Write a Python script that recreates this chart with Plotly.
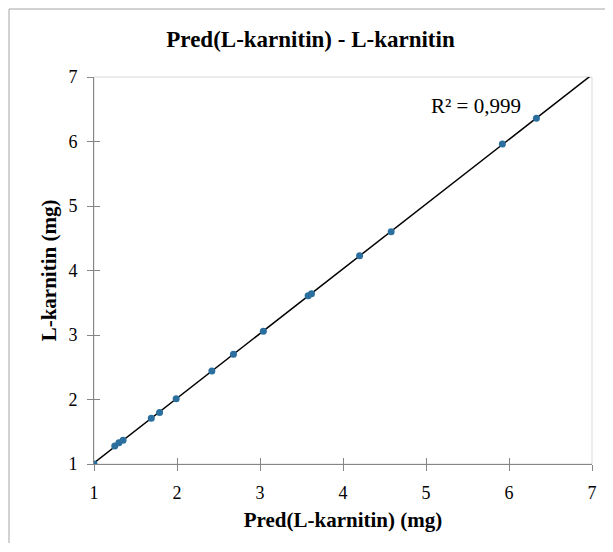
import numpy as np
import plotly.graph_objects as go

# Data
pred_mg = [1.00, 1.25, 1.30, 1.35, 1.69, 1.79, 1.99, 2.42, 2.68, 3.04, 3.58, 3.62, 4.20, 4.58, 5.92, 6.33]
lkarn_mg = [1.00, 1.28, 1.33, 1.37, 1.71, 1.80, 2.01, 2.44, 2.70, 3.06, 3.61, 3.64, 4.23, 4.60, 5.96, 6.36]
tick_vals = [1, 2, 3, 4, 5, 6, 7]
title_text = "Pred(L-karnitin) - L-karnitin"
x_title = "Pred(L-karnitin) (mg)"
y_title = "L-karnitin (mg)"
r2_label = "R² = 0,999"

slope, intercept = np.polyfit(pred_mg, lkarn_mg, 1)
line_x = [1, 7]
line_y = [slope * v + intercept for v in line_x]

FONT = "Liberation Serif"
AX = "#868686"
LIGHT = "#d9d9d9"

W, H = 605, 536
ML, MR, MT, MB = 86, 21, 69, 80
PW, PH = W - ML - MR, H - MT - MB

fig = go.Figure()
fig.add_trace(go.Scatter(x=line_x, y=line_y, mode="lines",
                         line=dict(color="black", width=1.5), hoverinfo="skip"))
fig.add_trace(go.Scatter(x=pred_mg, y=lkarn_mg, mode="markers",
                         marker=dict(color="#2b6f9f", size=7)))
# invisible trace to activate the overlay axes (inside half of cross ticks)
fig.add_trace(go.Scatter(x=pred_mg, y=lkarn_mg, mode="markers", xaxis="x2", yaxis="y2",
                         marker=dict(opacity=0), hoverinfo="skip"))

axis_common = dict(range=[1, 7], tickvals=tick_vals, showgrid=False, zeroline=False)
fx0 = (1 - ML) / PW          # left edge of the chart frame (paper units)
fx1 = (W - 1 - ML) / PW      # right end of the top frame line
fy1 = 1 + (MT - 1) / PH      # top edge of the chart frame (paper units)
fy0 = -(MB - 1) / PH         # bottom end of the left frame line
fig.update_layout(
    width=W, height=H,
    margin=dict(l=ML, r=MR, t=MT, b=MB),
    paper_bgcolor="white", plot_bgcolor="white",
    showlegend=False,
    font=dict(family=FONT, color="black", size=18),
    title=dict(text="<b>" + title_text + "</b>", x=0.5, xref="container", xanchor="center",
               y=1 - 31 / H, yref="container", yanchor="middle", font=dict(family=FONT, size=23)),
    xaxis=dict(**axis_common, showline=True, linecolor=AX, linewidth=1,
               ticks="outside", ticklen=6, tickcolor=AX, ticklabelstandoff=6,
               tickfont=dict(size=18),
               title=dict(text="<b>" + x_title + "</b>", font=dict(size=21), standoff=10)),
    yaxis=dict(**axis_common, showline=True, linecolor=AX, linewidth=1,
               ticks="outside", ticklen=6, tickcolor=AX, ticklabelstandoff=6,
               tickfont=dict(size=18),
               title=dict(text="<b>" + y_title + "</b>", font=dict(size=21), standoff=6)),
    xaxis2=dict(**axis_common, overlaying="x", side="bottom", ticks="inside", ticklen=6,
                tickcolor=AX, showticklabels=False, showline=False),
    yaxis2=dict(**axis_common, overlaying="y", side="left", ticks="inside", ticklen=6,
                tickcolor=AX, showticklabels=False, showline=False),
    shapes=[
        dict(type="rect", xref="paper", yref="paper", x0=0, x1=1, y0=0, y1=1,
             line=dict(color=LIGHT, width=1), layer="below"),
        dict(type="line", xref="paper", yref="paper", x0=fx0, x1=fx0, y0=fy0, y1=fy1,
             line=dict(color="#a6a6a6", width=1), layer="below"),
        dict(type="line", xref="paper", yref="paper", x0=fx0, x1=fx1, y0=fy1, y1=fy1,
             line=dict(color="#a6a6a6", width=1), layer="below"),
    ],
    annotations=[
        dict(text=r2_label, x=5.6, y=6.55, xref="x", yref="y", showarrow=False,
             xanchor="center", yanchor="middle", font=dict(size=21, family=FONT)),
    ],
)

fig.write_html("out.html")
